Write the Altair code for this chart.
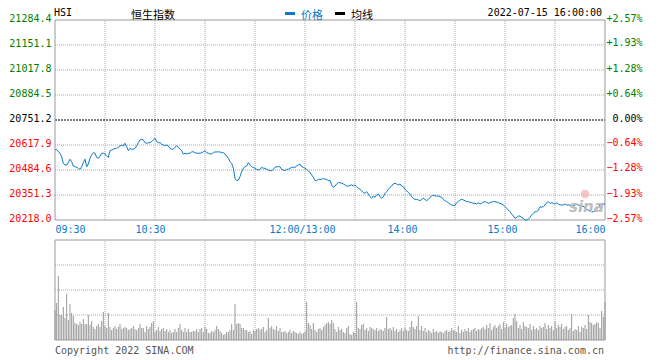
import altair as alt
import pandas as pd

# ---------------- data ----------------
price = [
    20591, 20595, 20582, 20574, 20556, 20520, 20511, 20511, 20524, 20542,
    20529, 20506, 20502, 20499, 20494, 20488, 20502, 20524, 20542, 20502,
    20517, 20547, 20565, 20577, 20574, 20552, 20547, 20559, 20574, 20574,
    20570, 20559, 20552, 20588, 20591, 20595, 20600, 20600, 20606, 20613,
    20618, 20613, 20627, 20609, 20588, 20600, 20595, 20595, 20600, 20613,
    20630, 20645, 20648, 20645, 20630, 20627, 20630, 20630, 20636, 20645,
    20654, 20636, 20630, 20630, 20623, 20618, 20613, 20618, 20613, 20600,
    20595, 20595, 20606, 20613, 20606, 20595, 20588, 20570, 20574, 20570,
    20574, 20574, 20581, 20582, 20577, 20574, 20574, 20574, 20577, 20582,
    20588, 20577, 20574, 20570, 20570, 20577, 20581, 20581, 20581, 20581,
    20577, 20577, 20570, 20559, 20547, 20529, 20520, 20494, 20440, 20428,
    20431, 20449, 20476, 20494, 20502, 20506, 20524, 20511, 20502, 20499,
    20494, 20488, 20485, 20488, 20499, 20494, 20494, 20488, 20485, 20481,
    20481, 20488, 20499, 20502, 20502, 20502, 20488, 20485, 20481, 20488,
    20488, 20494, 20499, 20499, 20499, 20506, 20511, 20517, 20502, 20499,
    20494, 20488, 20481, 20470, 20458, 20446, 20428, 20428, 20435, 20435,
    20435, 20440, 20435, 20435, 20428, 20428, 20405, 20392, 20399, 20410,
    20417, 20417, 20414, 20410, 20405, 20399, 20399, 20403, 20405, 20399,
    20405, 20396, 20387, 20382, 20374, 20364, 20360, 20369, 20357, 20342,
    20334, 20346, 20339, 20351, 20357, 20342, 20334, 20342, 20360, 20369,
    20382, 20392, 20399, 20410, 20414, 20410, 20405, 20410, 20399, 20396,
    20382, 20374, 20364, 20357, 20342, 20334, 20328, 20328, 20325, 20321,
    20328, 20334, 20328, 20321, 20328, 20339, 20346, 20351, 20346, 20346,
    20346, 20342, 20339, 20328, 20321, 20316, 20310, 20303, 20298, 20296,
    20296, 20310, 20316, 20325, 20328, 20325, 20321, 20316, 20316, 20312,
    20310, 20307, 20307, 20303, 20310, 20303, 20307, 20314, 20316, 20312,
    20307, 20310, 20314, 20316, 20316, 20314, 20310, 20307, 20303, 20298,
    20289, 20280, 20271, 20262, 20250, 20239, 20227, 20232, 20239, 20239,
    20232, 20227, 20218, 20218, 20222, 20232, 20245, 20254, 20262, 20262,
    20271, 20289, 20286, 20289, 20298, 20310, 20316, 20307, 20310, 20307,
    20303, 20310, 20303, 20298, 20298, 20298, 20303, 20298, 20298, 20298,
    20289, 20293, 20298, 20303, 20298, 20293, 20289, 20293, 20280, 20275,
    20271, 20268, 20262, 20262, 20268, 20275, 20289, 20298, 20303, 20303,
    20303,
]

volume = [
    30, 37, 64, 25, 25, 33, 22, 46, 20, 36,
    27, 24, 17, 16, 15, 18, 16, 21, 16, 16,
    25, 15, 19, 13, 11, 14, 16, 13, 19, 28,
    14, 12, 27, 13, 10, 12, 14, 11, 13, 16,
    11, 12, 13, 12, 10, 11, 12, 14, 11, 10,
    12, 16, 12, 12, 8, 14, 11, 13, 17, 19,
    8, 10, 13, 9, 11, 12, 9, 11, 8, 10,
    7, 8, 11, 8, 12, 16, 10, 8, 12, 8,
    11, 8, 8, 9, 9, 11, 8, 11, 12, 8,
    13, 11, 7, 7, 9, 8, 10, 14, 11, 9,
    7, 5, 6, 8, 8, 10, 16, 10, 36, 16,
    17, 16, 12, 12, 10, 10, 8, 9, 6, 10,
    9, 11, 12, 10, 11, 13, 8, 10, 22, 12,
    14, 11, 10, 14, 9, 12, 8, 8, 9, 7,
    8, 10, 7, 9, 8, 7, 6, 8, 6, 7,
    8, 38, 17, 15, 11, 17, 10, 8, 11, 12,
    10, 13, 15, 17, 18, 16, 20, 17, 11, 8,
    13, 10, 11, 8, 7, 12, 14, 6, 5, 8,
    7, 38, 12, 11, 15, 16, 10, 12, 9, 13,
    12, 11, 10, 12, 9, 11, 10, 9, 12, 23,
    11, 12, 10, 13, 9, 11, 8, 10, 12, 9,
    12, 10, 9, 13, 19, 13, 11, 14, 24, 10,
    14, 9, 12, 8, 10, 9, 7, 11, 8, 9,
    7, 9, 8, 7, 9, 10, 8, 9, 12, 10,
    9, 8, 14, 7, 10, 8, 11, 9, 12, 8,
    10, 11, 12, 9, 11, 10, 12, 13, 11, 15,
    12, 17, 10, 13, 15, 12, 14, 16, 11, 18,
    12, 16, 13, 14, 15, 22, 26, 19, 12, 15,
    11, 18, 14, 13, 12, 16, 10, 14, 11, 12,
    10, 14, 12, 13, 17, 11, 15, 12, 14, 10,
    19, 12, 15, 13, 16, 11, 13, 14, 10, 12,
    26, 9, 11, 10, 14, 8, 13, 12, 15, 11,
    25, 18, 17, 15, 16, 18, 17, 12, 29, 23,
    38,
]

prev_close = 20751.2
price_ticks = [20218.0, 20351.3, 20484.6, 20617.9, 20751.2, 20884.5, 21017.8, 21151.1, 21284.4]
pct_ticks = [-2.57, -1.93, -1.28, -0.64, 0.0, 0.64, 1.28, 1.93, 2.57]
time_pos = [0, 60, 150, 210, 270, 330]
time_labels = ["09:30", "10:30", "12:00/13:00", "14:00", "15:00", "16:00"]
grid_minutes = [30, 60, 90, 120, 150, 180, 210, 240, 270, 300]
vol_grid = [25, 50, 75]
vol_max = 100

n = min(len(price), len(volume))
df = pd.DataFrame({"m": list(range(n)), "price": price[:n], "vol": volume[:n], "zero": [0] * n})

FONT = "DejaVu Sans Mono"
CJK = "Noto Sans CJK SC"
BLUE = "#0a79c8"
GRID = "#a8a8a8"
FRAME = "#9a9a9a"
p_lo, p_hi = price_ticks[0], price_ticks[-1]
m_lo, m_hi = time_pos[0], time_pos[-1]


def xs():
    return alt.Scale(domain=[m_lo, m_hi], nice=False, zero=False)


def ps():
    return alt.Scale(domain=[p_lo, p_hi], range=[200, 0], nice=False, zero=False)


def vs():
    return alt.Scale(domain=[0, vol_max], range=[320, 220], nice=False, zero=False)


def cs():
    return alt.Scale(domain=[pct_ticks[0], pct_ticks[-1]], range=[200, 0], nice=False, zero=False)


label_expr = " : ".join(f"datum.value == {p} ? '{l}'" for p, l in zip(time_pos, time_labels)) + " : ''"
x_axis = alt.Axis(values=time_pos, labelExpr=label_expr, orient="bottom", offset=-120,
                  domain=False, ticks=False, grid=False, labelPadding=4, labelFlush=True,
                  labelOffset={"expr": f"datum.value == {m_lo} || datum.value == {m_hi} ? 0 : (datum.value == 60 ? -5 : -3)"},
                  labelOverlap=False, labelFont=FONT, labelFontSize=10, labelColor=BLUE, title=None)

left_axis = alt.Axis(orient="left", values=price_ticks, format=".1f", domain=False, ticks=False,
                     grid=False, labelPadding=4, labelFont=FONT, labelFontSize=10,
                     labelBaseline="alphabetic", labelOffset=1, labelOverlap=False, labelBound=False,
                     labelColor={"expr": f"datum.value > {prev_close + 0.05} ? '#008000' : datum.value < {prev_close - 0.05} ? '#ff0000' : '#000000'"},
                     title=None)

right_axis = alt.Axis(orient="right", values=pct_ticks,
                      labelExpr="(datum.value > 0 ? '+' : '') + format(datum.value, '.2f') + '%'",
                      domain=False, ticks=False, grid=False, labelAlign="right", labelPadding=37,
                      labelFont=FONT, labelFontSize=10, labelBaseline="alphabetic", labelOffset=1,
                      labelOverlap=False, labelBound=False,
                      labelColor={"expr": "datum.value > 0 ? '#008000' : datum.value < 0 ? '#ff0000' : '#000000'"},
                      title=None)


def X(field):
    return alt.X(field, scale=xs(), axis=None)


# ---------------- price panel ----------------
hgrid_p = alt.Chart(pd.DataFrame({"v": [t for t in price_ticks[1:-1] if abs(t - prev_close) > 0.01],
                                  "x0": m_lo, "x1": m_hi})).mark_rule(
    color=GRID, strokeDash=[1, 1], strokeWidth=1).encode(
    x=X("x0:Q"), x2="x1:Q", y=alt.Y("v:Q", scale=ps(), axis=None))

vgrid_p = alt.Chart(pd.DataFrame({"m": grid_minutes, "y0": p_lo, "y1": p_hi})).mark_rule(
    color=GRID, strokeDash=[1, 1], strokeWidth=1).encode(
    x=X("m:Q"), y=alt.Y("y0:Q", scale=ps(), axis=None), y2="y1:Q")

prev_rule = alt.Chart(pd.DataFrame({"v": [prev_close], "x0": m_lo, "x1": m_hi})).mark_rule(
    color="#000000", strokeDash=[2, 1], strokeWidth=1).encode(
    x=X("x0:Q"), x2="x1:Q", y=alt.Y("v:Q", scale=ps(), axis=None))

frame_p = alt.Chart(pd.DataFrame({"x0": [m_lo], "x1": [m_hi], "y0": [p_lo], "y1": [p_hi]})).mark_rect(
    fill="transparent", stroke=FRAME, strokeWidth=1).encode(
    x=X("x0:Q"), x2="x1:Q", y=alt.Y("y0:Q", scale=ps(), axis=None), y2="y1:Q")

line = alt.Chart(df).mark_line(color=BLUE, strokeWidth=1).encode(
    x=X("m:Q"), y=alt.Y("price:Q", scale=ps(), axis=None))

price_panel = alt.layer(hgrid_p, vgrid_p, prev_rule, frame_p, line)

# ---------------- volume panel ----------------
hgrid_v = alt.Chart(pd.DataFrame({"v": vol_grid, "x0": m_lo, "x1": m_hi})).mark_rule(
    color=GRID, strokeDash=[1, 1], strokeWidth=1).encode(
    x=X("x0:Q"), x2="x1:Q", y=alt.Y("v:Q", scale=vs(), axis=None))

vgrid_v = alt.Chart(pd.DataFrame({"m": grid_minutes, "y0": 0, "y1": vol_max})).mark_rule(
    color=GRID, strokeDash=[1, 1], strokeWidth=1).encode(
    x=X("m:Q"), y=alt.Y("y0:Q", scale=vs(), axis=None), y2="y1:Q")

bars = alt.Chart(df).mark_rule(color="#999999", strokeWidth=1).encode(
    x=X("m:Q"), y=alt.Y("vol:Q", scale=vs(), axis=None), y2="zero:Q")

frame_v = alt.Chart(pd.DataFrame({"x0": [m_lo], "x1": [m_hi], "y0": [0], "y1": [vol_max]})).mark_rect(
    fill="transparent", stroke=FRAME, strokeWidth=1).encode(
    x=X("x0:Q"), x2="x1:Q", y=alt.Y("y0:Q", scale=vs(), axis=None), y2="y1:Q")

volume_panel = alt.layer(hgrid_v, vgrid_v, bars, frame_v)

# ---------------- axis-only layers ----------------
price_axis_layer = alt.Chart(pd.DataFrame({"v": price_ticks})).mark_point(opacity=0).encode(
    y=alt.Y("v:Q", scale=ps(), axis=left_axis))

pct_layer = alt.Chart(pd.DataFrame({"p": pct_ticks})).mark_point(opacity=0).encode(
    y=alt.Y("p:Q", scale=cs(), axis=right_axis))

time_layer = alt.Chart(pd.DataFrame({"t": time_pos})).mark_point(opacity=0).encode(
    x=alt.X("t:Q", scale=xs(), axis=x_axis))

# ---------------- header / footer texts ----------------
one = pd.DataFrame({"a": [0]})


def txt(s, x, y, align="left", color="#000000", font=FONT, size=10, **kw):
    return alt.Chart(one).mark_text(text=s, align=align, baseline="alphabetic", font=font,
                                    fontSize=size, color=color, **kw).encode(
        x=alt.value(x), y=alt.value(y))


def dash(x0, x1, y, color):
    return alt.Chart(one).mark_rule(color=color, strokeWidth=3).encode(
        x=alt.value(x0), x2=alt.value(x1), y=alt.value(y))


texts = alt.layer(
    txt("HSI", -1, -4.5),
    txt("恒生指数", 76, -1.5, font=CJK, size=11),
    dash(230, 240, -6.5, BLUE),
    txt("价格", 246, -1.5, color=BLUE, font=CJK, size=11),
    dash(280, 290, -6.5, "#000000"),
    txt("均线", 296, -1.5, font=CJK, size=11),
    txt("2022-07-15 16:00:00", 547, -4.5, align="right"),
    txt("Copyright 2022 SINA.COM", 0, 334, color="#555555"),
    txt("http://finance.sina.com.cn", 549, 334, align="right", color="#555555"),
    alt.Chart(one).mark_point(filled=True, color="#f2b8b8", size=70, opacity=0.8).encode(
        x=alt.value(530), y=alt.value(174)),
    txt("sina", 514, 192, color="#bdbdbd", font="DejaVu Sans", size=15,
        fontStyle="italic", fontWeight="bold"),
)

chart = alt.layer(price_panel, volume_panel, price_axis_layer, pct_layer, time_layer, texts).resolve_scale(
    x="independent", y="independent"
).properties(
    width=550, height=320,
    padding={"left": 47, "top": 12, "right": 47, "bottom": 20},
    autosize=alt.AutoSizeParams(type="none"),
    background="#ffffff",
).configure_view(stroke=None)

chart.save("out.html", embed_options={"renderer": "svg", "actions": False})
